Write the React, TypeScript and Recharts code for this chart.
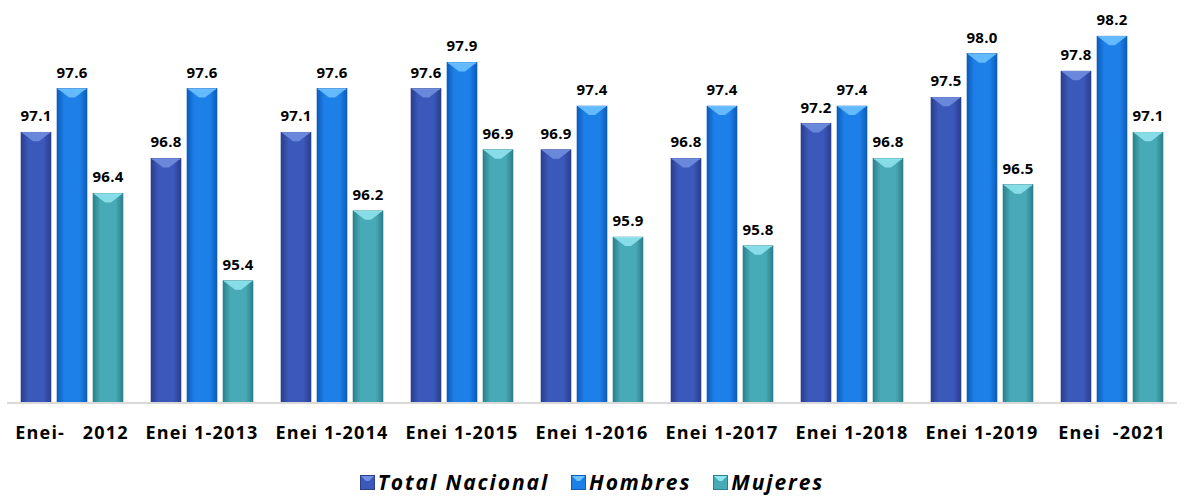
import React from 'react'
import { BarChart, Bar, XAxis, YAxis, LabelList } from 'recharts'

const categories = ['Enei-   2012', 'Enei 1-2013', 'Enei 1-2014', 'Enei 1-2015', 'Enei 1-2016', 'Enei 1-2017', 'Enei 1-2018', 'Enei 1-2019', 'Enei  -2021']
const totalNacional = [97.1, 96.8, 97.1, 97.6, 96.9, 96.8, 97.2, 97.5, 97.8]
const hombres = [97.6, 97.6, 97.6, 97.9, 97.4, 97.4, 97.4, 98.0, 98.2]
const mujeres = [96.4, 95.4, 96.2, 96.9, 95.9, 95.8, 96.8, 96.5, 97.1]

const data = categories.map((name, i) => ({
  name,
  total: totalNacional[i],
  hombres: hombres[i],
  mujeres: mujeres[i],
}))

const series = [
  { key: 'total', name: 'Total Nacional', dark: '#2a3e8c', mid: '#3b58bb', light: '#7390e0' },
  { key: 'hombres', name: 'Hombres', dark: '#0c5cbc', mid: '#1d80e8', light: '#70c4ff' },
  { key: 'mujeres', name: 'Mujeres', dark: '#2b808c', mid: '#48aab6', light: '#92e6f0' },
]

const font = '"Open Sans", Calibri, sans-serif'

const BevelBar = (props: any) => {
  const { x, y, width, height, s } = props
  if (!height || height <= 0) return null
  const b = Math.min(9, height)
  return (
    <g>
      <rect x={x} y={y} width={width} height={height} fill={`url(#grad-${s.key})`} stroke={s.dark} strokeWidth={0.6} />
      <polygon
        points={`${x + 1},${y + 0.5} ${x + width - 1},${y + 0.5} ${x + width / 2 + 3},${y + b} ${x + width / 2 - 3},${y + b}`}
        fill={s.light}
        opacity={0.85}
      />
      <line x1={x + 1} y1={y + 0.5} x2={x + width - 1} y2={y + 0.5} stroke={s.light} strokeWidth={1} />
    </g>
  )
}

const CatTick = (props: any) => {
  const { x, y, payload } = props
  return (
    <text x={x} y={y + 28} textAnchor="middle" fontFamily={font} fontWeight="bold" fontSize={18} letterSpacing={1.2} fill="#000" style={{ whiteSpace: 'pre' }}>
      {payload.value}
    </text>
  )
}

const LegendRow = () => (
  <div style={{ position: 'absolute', left: 0, top: 468, width: 1184, display: 'flex', justifyContent: 'center', gap: 22, fontFamily: font, fontWeight: 'bold', fontStyle: 'italic', fontSize: 21, letterSpacing: 1.9 }}>
    {series.map((s) => (
      <div key={s.key} style={{ display: 'flex', alignItems: 'center' }}>
        <svg width={15} height={15} style={{ marginRight: 3 }}>
          <rect x={0.5} y={0.5} width={14} height={14} fill={s.mid} stroke={s.dark} />
          <polygon points="1,1 14,1 9,6 6,6" fill={s.light} />
        </svg>
        <span>{s.name}</span>
      </div>
    ))}
  </div>
)

export default function App() {
  return (
    <div style={{ position: 'absolute', left: 0, top: 0, width: 1184, height: 500, background: '#fff' }}>
      <BarChart
        width={1184}
        height={500}
        data={data}
        margin={{ top: 10, right: 7, left: 7, bottom: 67 }}
        barSize={30}
        barGap={6}
      >
        <defs>
          {series.map((s) => (
            <linearGradient key={s.key} id={`grad-${s.key}`} x1="0" y1="0" x2="1" y2="0">
              <stop offset="0%" stopColor={s.dark} />
              <stop offset="25%" stopColor={s.mid} />
              <stop offset="75%" stopColor={s.mid} />
              <stop offset="100%" stopColor={s.dark} />
            </linearGradient>
          ))}
        </defs>
        <XAxis dataKey="name" tick={<CatTick />} tickLine={false} axisLine={{ stroke: '#d9d9d9', strokeWidth: 2 }} interval={0} />
        <YAxis hide domain={[94, 98.5]} allowDataOverflow />
        {series.map((s) => (
          <Bar key={s.key} dataKey={s.key} name={s.name} isAnimationActive={false} shape={(p: any) => <BevelBar {...p} s={s} />}>
            <LabelList dataKey={s.key} position="top" offset={11} formatter={(v: any) => Number(v).toFixed(1)} style={{ fontFamily: font, fontWeight: 'bold', fontSize: 15, letterSpacing: 0.3, fill: '#000' }} />
          </Bar>
        ))}
      </BarChart>
      <LegendRow />
    </div>
  )
}
